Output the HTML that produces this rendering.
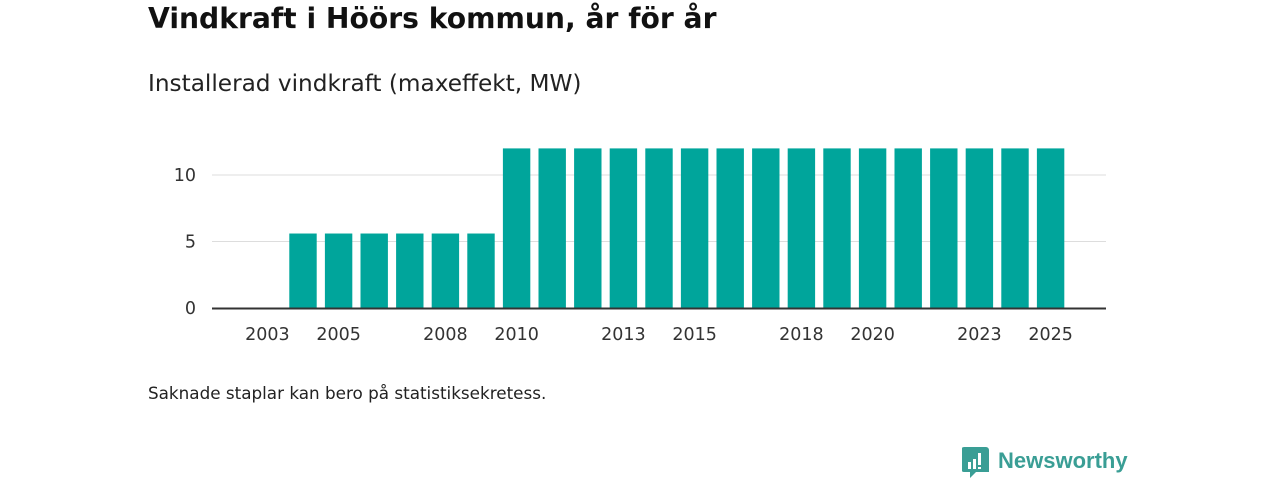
<!DOCTYPE html>
<html><head><meta charset="utf-8"><style>
body{margin:0;width:1280px;height:480px;background:#fff;font-family:"DejaVu Sans",sans-serif;position:relative;overflow:hidden}
.t{position:absolute;left:148px;top:2px;font-size:28.2px;font-weight:bold;color:#111}
.s{position:absolute;left:148px;top:70px;font-size:23.2px;color:#222}
.n{position:absolute;left:148px;top:383px;font-size:16.8px;color:#222}
</style></head><body>
<div class="t">Vindkraft i Höörs kommun, år för år</div>
<div class="s">Installerad vindkraft (maxeffekt, MW)</div>
<svg id="c" width="1280" height="480" style="position:absolute;left:0;top:0"></svg>
<div class="n">Saknade staplar kan bero på statistiksekretess.</div>
<div style="position:absolute;left:962px;top:447px;width:200px;height:32px">
<svg width="28" height="32" style="position:absolute;left:0;top:0"><path d="M2 0h22a3 3 0 0 1 3 3v22h-13l-6 6v-6h-6a3 3 0 0 1-3-3v-19a3 3 0 0 1 3-3z" fill="#3a9e95"/><rect x="6" y="15" width="3" height="7" fill="#fff"/><rect x="11" y="12" width="3" height="10" fill="#fff"/><rect x="16" y="6" width="3" height="12" fill="#fff"/><rect x="16" y="20" width="3" height="2" fill="#fff"/></svg>
<span style="position:absolute;left:36px;top:1px;font-family:'Liberation Sans',sans-serif;font-size:22px;font-weight:bold;color:#3a9e95">Newsworthy</span></div>
<script>
const years=[2002,2003,2004,2005,2006,2007,2008,2009,2010,2011,2012,2013,2014,2015,2016,2017,2018,2019,2020,2021,2022,2023,2024,2025,2026];
const values=[null,null,5.6,5.6,5.6,5.6,5.6,5.6,12,12,12,12,12,12,12,12,12,12,12,12,12,12,12,12,null];
const yTicks=[0,5,10];
const xTickLabels=[2003,2005,2008,2010,2013,2015,2018,2020,2023,2025];
const svg=document.getElementById('c'),NS='http://www.w3.org/2000/svg';
const L=214,R=1104,bw=(R-L)/years.length;
const x=y=>L+(years.indexOf(y)+0.5)*bw;
const yS=v=>308-v*13.3;
function mk(t,a){const e=document.createElementNS(NS,t);for(const k in a)e.setAttribute(k,a[k]);svg.appendChild(e);return e;}
yTicks.forEach(v=>{
 if(v>0){const g=mk('line',{x1:212,x2:1106,y1:yS(v),y2:yS(v),stroke:'#ddd','stroke-width':1});
 
 }
 const t=mk('text',{x:196,y:yS(v)+6,'text-anchor':'end','font-size':17.5,fill:'#333','font-family':'DejaVu Sans'});t.textContent=v;
 
 
});
years.forEach((yr,i)=>{const v=values[i];if(v==null)return;
 const r=mk('rect',{x:x(yr)-bw*0.385,width:bw*0.77,y:yS(v),height:yS(0)-yS(v),fill:'#00a59b'});
 
 
});
const ax=mk('line',{x1:212,x2:1106,y1:308.5,y2:308.5,stroke:'#333','stroke-width':2});


xTickLabels.forEach(yr=>{
 const t=mk('text',{x:x(yr),y:340,'text-anchor':'middle','font-size':17.5,fill:'#333','font-family':'DejaVu Sans'});t.textContent=yr;
 
 
});
</script>
</body></html>
